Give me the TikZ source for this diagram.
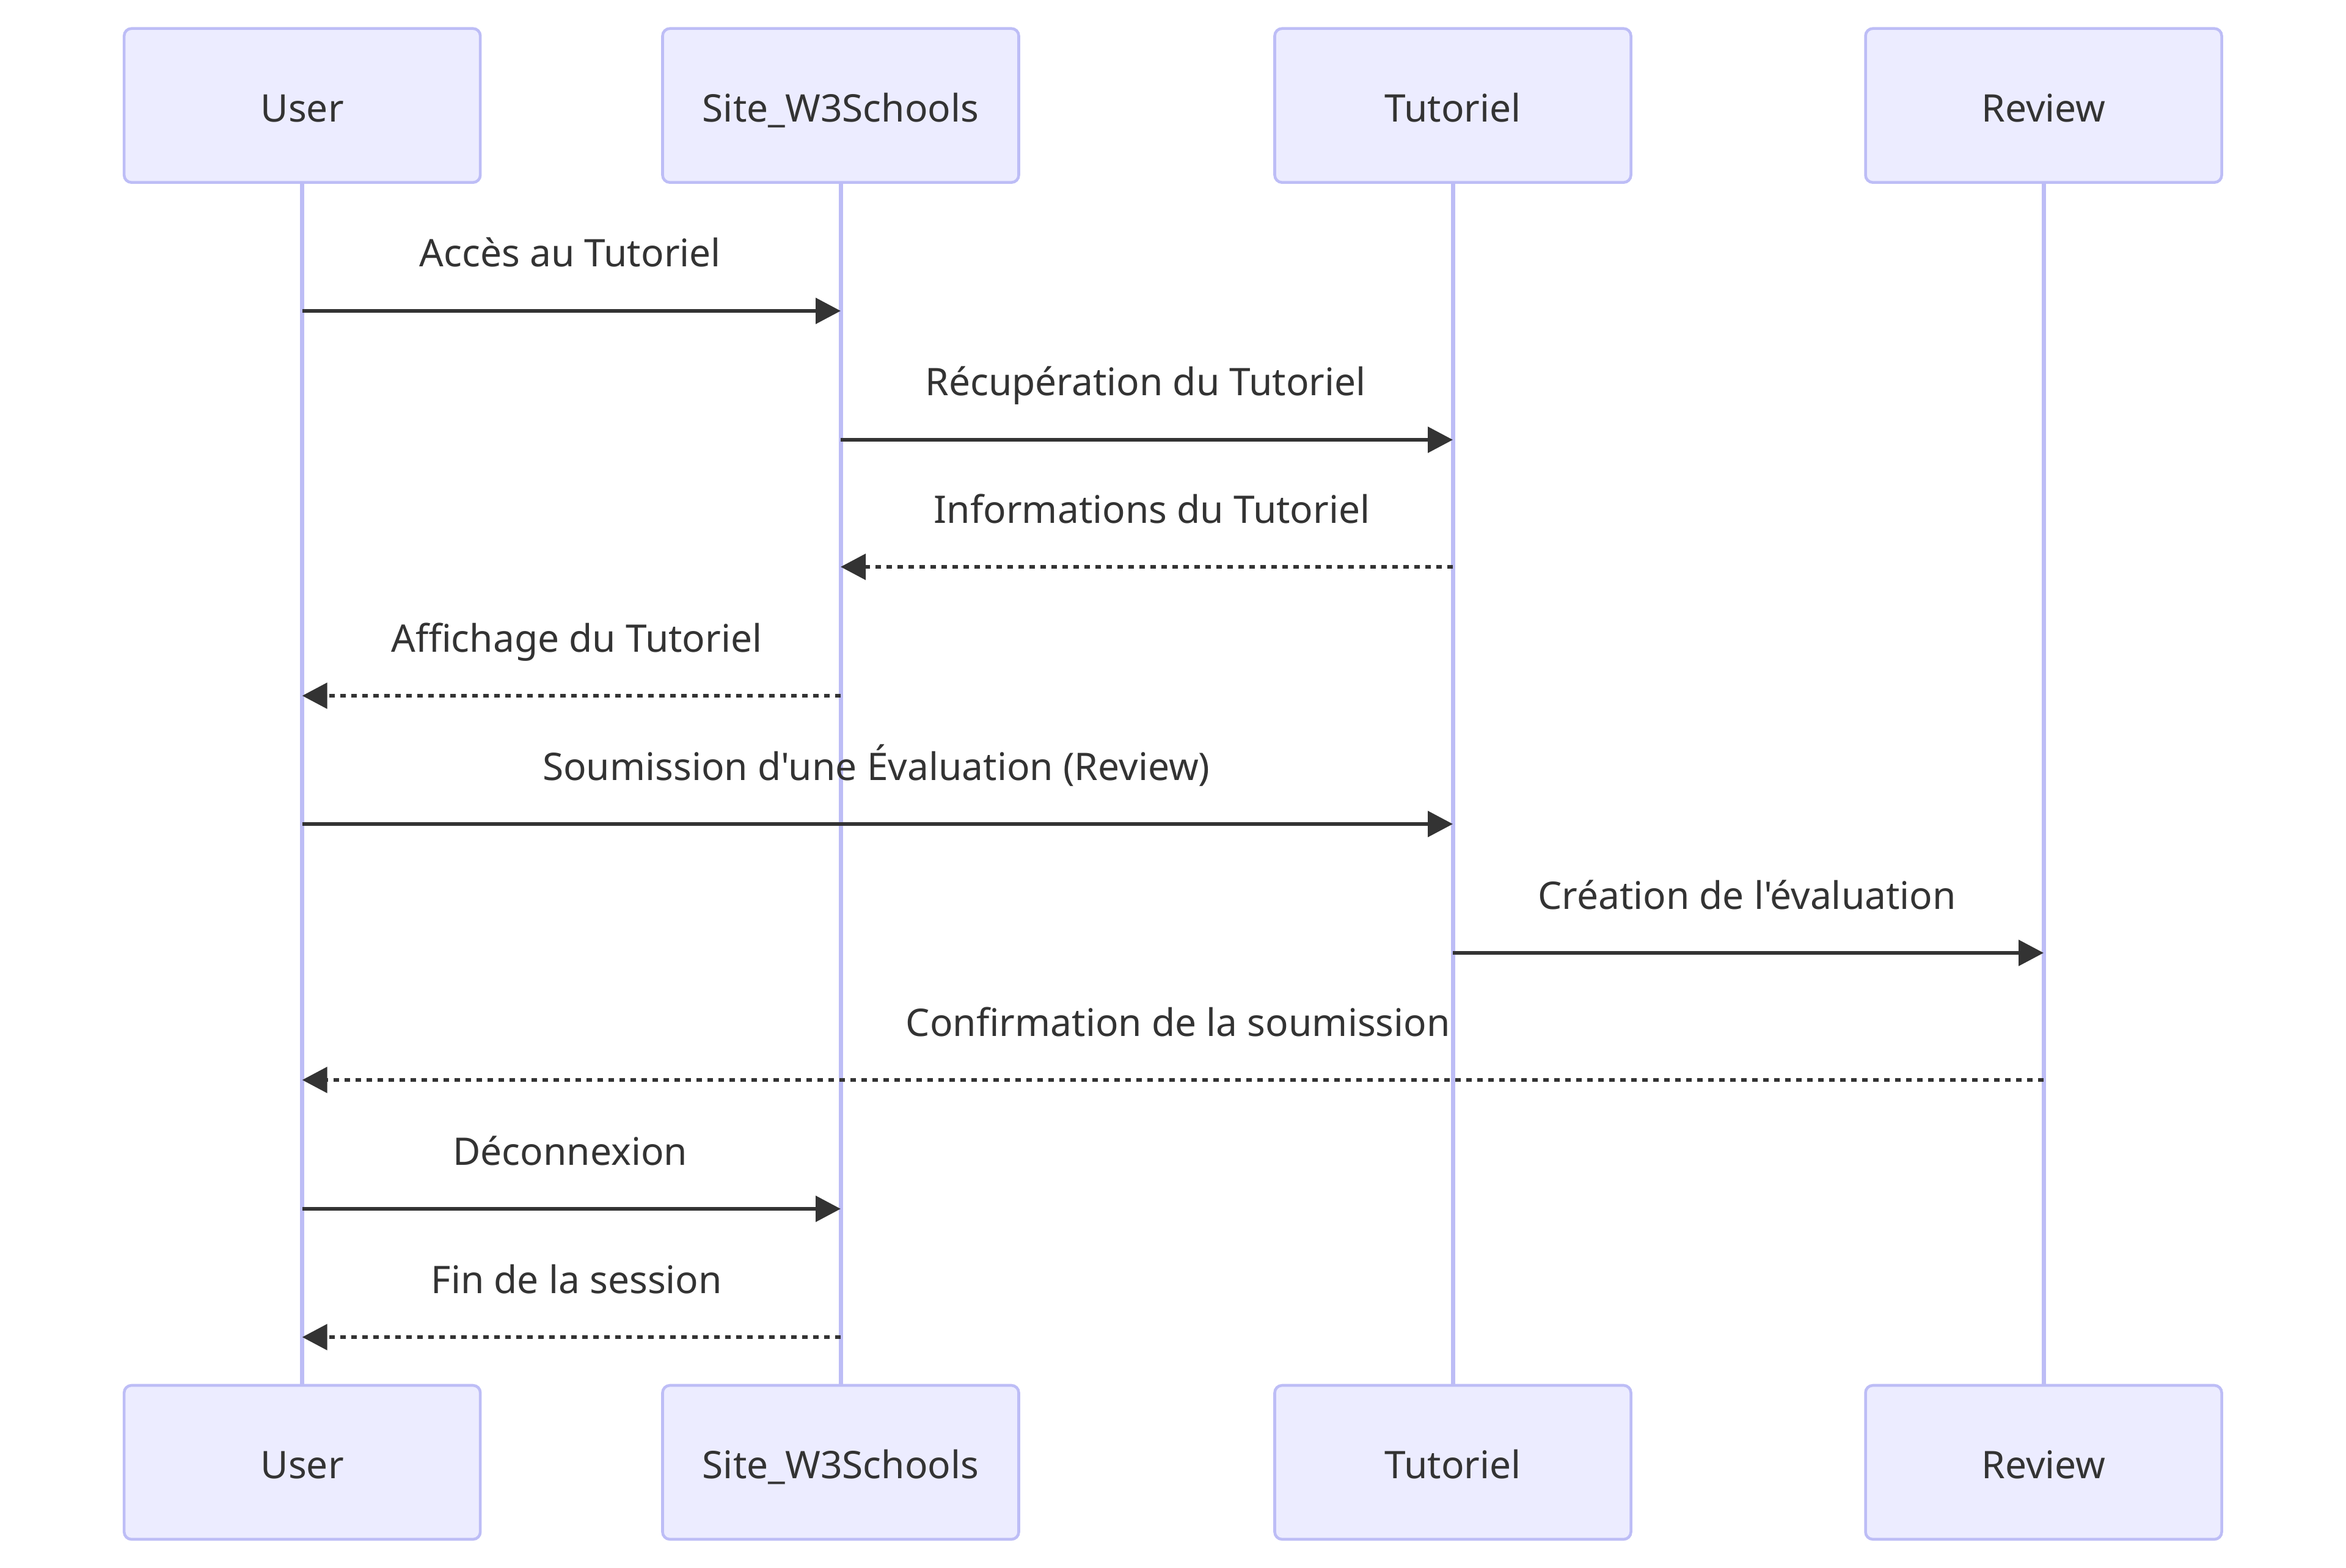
\documentclass[tikz,border=0pt]{standalone}
\usepackage{fontspec}
\setmainfont{Noto Sans}[Ligatures=TeXOff]
\usetikzlibrary{arrows.meta}
\definecolor{actfill}{HTML}{ECECFF}
\definecolor{actline}{HTML}{BDBDF6}
\definecolor{txt}{HTML}{333333}
\tikzset{
  actor/.style={draw=actline, fill=actfill, line width=1.3pt, rounded corners=0.12cm,
    minimum width=5.83cm, minimum height=2.52cm, text=txt, font=\fontsize{17.7}{21}\selectfont,
    inner sep=0pt, text height=0.53cm, text depth=0cm},
  life/.style={draw=actline, line width=2pt},
  msg/.style={draw=txt, line width=1.5pt, -{Triangle[length=0.41cm,width=0.42cm]}},
  ret/.style={msg, dash pattern=on 0.09cm off 0.09cm},
  lbl/.style={text=txt, font=\fontsize{17.7}{21}\selectfont, inner sep=0pt, anchor=base, yshift=0.72cm, xshift=-0.02cm},
  rlbl/.style={lbl, xshift=0.105cm}
}
\begin{document}
\begin{tikzpicture}
\useasboundingbox (0,0) rectangle (38.40,-25.67);
% top actors
\node[actor] (u1) at (4.947,-1.727) {User};
\node[actor] (s1) at (13.76,-1.727) {Site\_W3Schools};
\node[actor] (t1) at (23.78,-1.727) {Tutoriel};
\node[actor] (r1) at (33.45,-1.727) {Review};
% bottom actors
\node[actor] (u2) at (4.947,-23.94) {User};
\node[actor] (s2) at (13.76,-23.94) {Site\_W3Schools};
\node[actor] (t2) at (23.78,-23.94) {Tutoriel};
\node[actor] (r2) at (33.45,-23.94) {Review};
% lifelines
\draw[life] (u1.south) -- (u2.north);
\draw[life] (s1.south) -- (s2.north);
\draw[life] (t1.south) -- (t2.north);
\draw[life] (r1.south) -- (r2.north);
% message anchor points
\foreach \n/\y in {1/5.09,2/7.20,3/9.28,4/11.39,5/13.49,6/15.60,7/17.68,8/19.79,9/21.89}{
  \coordinate (u\n) at (4.947,-\y);
  \coordinate (s\n) at (13.76,-\y);
  \coordinate (t\n) at (23.78,-\y);
  \coordinate (r\n) at (33.45,-\y);
}
\draw[msg] (u1) -- (s1) node[lbl, midway] (m1) {Accès au Tutoriel};
\draw[msg] (s2) -- (t2) node[lbl, midway] (m2) {Récupération du Tutoriel};
\draw[ret] (t3) -- (s3) node[rlbl, midway] (m3) {Informations du Tutoriel};
\draw[ret] (s4) -- (u4) node[rlbl, midway] (m4) {Affichage du Tutoriel};
\draw[msg] (u5) -- (t5) node[lbl, midway] (m5) {Soumission d'une Évaluation (Review)};
\draw[msg] (t6) -- (r6) node[lbl, midway] (m6) {Création de l'évaluation};
\draw[ret] (r7) -- (u7) node[rlbl, midway] (m7) {Confirmation de la soumission};
\draw[msg] (u8) -- (s8) node[lbl, midway] (m8) {Déconnexion};
\draw[ret] (s9) -- (u9) node[rlbl, midway] (m9) {Fin de la session};
\end{tikzpicture}
\end{document}
